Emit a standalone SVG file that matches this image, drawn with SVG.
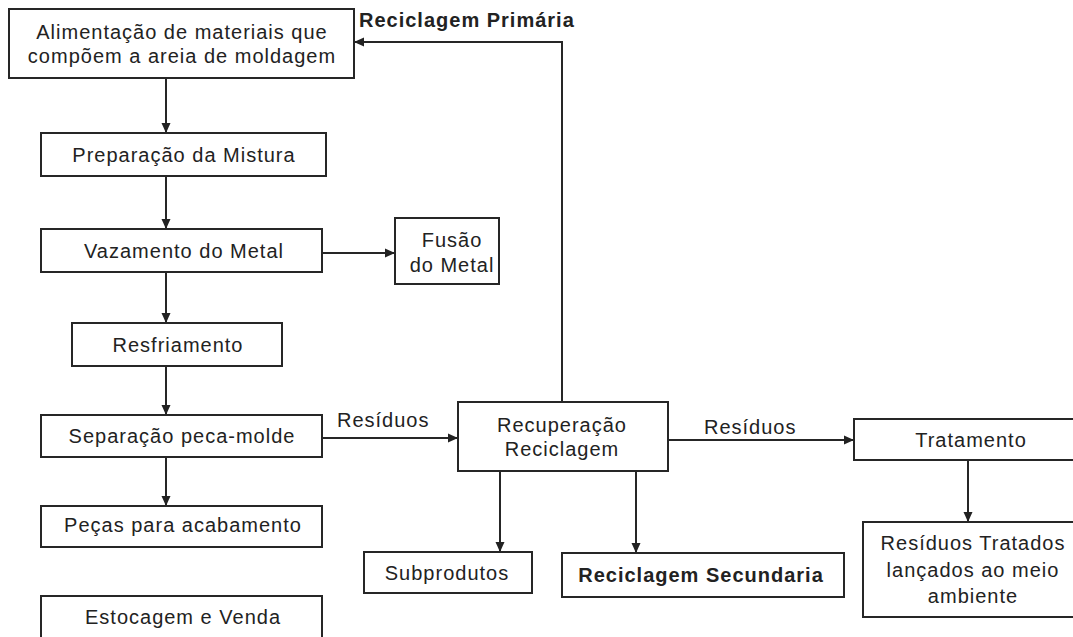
<svg xmlns="http://www.w3.org/2000/svg" width="1073" height="637" viewBox="0 0 1073 637">
  <style>
    .box { fill: #ffffff; stroke: #262626; stroke-width: 2; }
    .lbl { font-family: "Liberation Sans", Arial, sans-serif; font-size: 20px; letter-spacing: 1px; fill: #222222; }
    .c { text-anchor: middle; }
    .b { font-weight: bold; }
    .edge { fill: none; stroke: #262626; stroke-width: 2; }
  </style>
  <defs>
    <marker id="arrow" markerUnits="userSpaceOnUse" markerWidth="10" markerHeight="10" refX="10" refY="5" orient="auto">
      <path d="M0,0.5 L10,5 L0,9.5 z" fill="#222222"/>
    </marker>
  </defs>
  <rect width="1073" height="637" fill="#ffffff"/>

  <!-- connectors -->
  <g id="connectors">
    <path class="edge" d="M166,78 V133" marker-end="url(#arrow)"/>
    <path class="edge" d="M166,176 V229" marker-end="url(#arrow)"/>
    <path class="edge" d="M322,253 H395" marker-end="url(#arrow)"/>
    <path class="edge" d="M166,272 V323" marker-end="url(#arrow)"/>
    <path class="edge" d="M166,366 V415" marker-end="url(#arrow)"/>
    <path class="edge" d="M166,457 V506" marker-end="url(#arrow)"/>
    <path class="edge" d="M322,438 H458" marker-end="url(#arrow)"/>
    <path class="edge" d="M562,402 V42 H354" marker-end="url(#arrow)"/>
    <path class="edge" d="M500,471 V552" marker-end="url(#arrow)"/>
    <path class="edge" d="M636,471 V553" marker-end="url(#arrow)"/>
    <path class="edge" d="M668,440 H854" marker-end="url(#arrow)"/>
    <path class="edge" d="M968,460 V522" marker-end="url(#arrow)"/>
    <text class="lbl" x="337" y="427">Resíduos</text>
    <text class="lbl" x="704" y="434">Resíduos</text>
    <text class="lbl b" x="359" y="27">Reciclagem Primária</text>
  </g>

  <!-- nodes -->
  <g id="alimentacao">
    <rect class="box" x="9" y="9" width="345" height="69"/>
    <text class="lbl c" x="182" y="39">Alimentação de materiais que</text>
    <text class="lbl c" x="182" y="63">compõem a areia de moldagem</text>
  </g>
  <g id="preparacao">
    <rect class="box" x="41" y="133" width="285" height="43"/>
    <text class="lbl c" x="184" y="162">Preparação da Mistura</text>
  </g>
  <g id="vazamento">
    <rect class="box" x="41" y="229" width="281" height="43"/>
    <text class="lbl c" x="184" y="258">Vazamento do Metal</text>
  </g>
  <g id="fusao">
    <rect class="box" x="395" y="218" width="104" height="66"/>
    <text class="lbl c" x="452" y="247">Fusão</text>
    <text class="lbl c" x="452" y="272">do Metal</text>
  </g>
  <g id="resfriamento">
    <rect class="box" x="72" y="323" width="210" height="43"/>
    <text class="lbl c" x="178" y="352">Resfriamento</text>
  </g>
  <g id="separacao">
    <rect class="box" x="41" y="415" width="281" height="42"/>
    <text class="lbl c" x="182" y="443">Separação peca-molde</text>
  </g>
  <g id="pecas">
    <rect class="box" x="41" y="506" width="281" height="41"/>
    <text class="lbl c" x="183" y="532">Peças para acabamento</text>
  </g>
  <g id="estocagem">
    <rect class="box" x="41" y="596" width="281" height="60"/>
    <text class="lbl c" x="183" y="624">Estocagem e Venda</text>
  </g>
  <g id="recuperacao">
    <rect class="box" x="458" y="402" width="210" height="69"/>
    <text class="lbl c" x="562" y="432">Recuperação</text>
    <text class="lbl c" x="562" y="456">Reciclagem</text>
  </g>
  <g id="subprodutos">
    <rect class="box" x="364" y="552" width="168" height="41"/>
    <text class="lbl c" x="447" y="580">Subprodutos</text>
  </g>
  <g id="reciclagem-secundaria">
    <rect class="box" x="562" y="553" width="282" height="44"/>
    <text class="lbl c b" x="701" y="582">Reciclagem Secundaria</text>
  </g>
  <g id="tratamento">
    <rect class="box" x="854" y="419" width="240" height="41"/>
    <text class="lbl c" x="971" y="447">Tratamento</text>
  </g>
  <g id="residuos-tratados">
    <rect class="box" x="863" y="522" width="230" height="95"/>
    <text class="lbl c" x="973" y="550">Resíduos Tratados</text>
    <text class="lbl c" x="973" y="577">lançados ao meio</text>
    <text class="lbl c" x="973" y="603">ambiente</text>
  </g>
</svg>
